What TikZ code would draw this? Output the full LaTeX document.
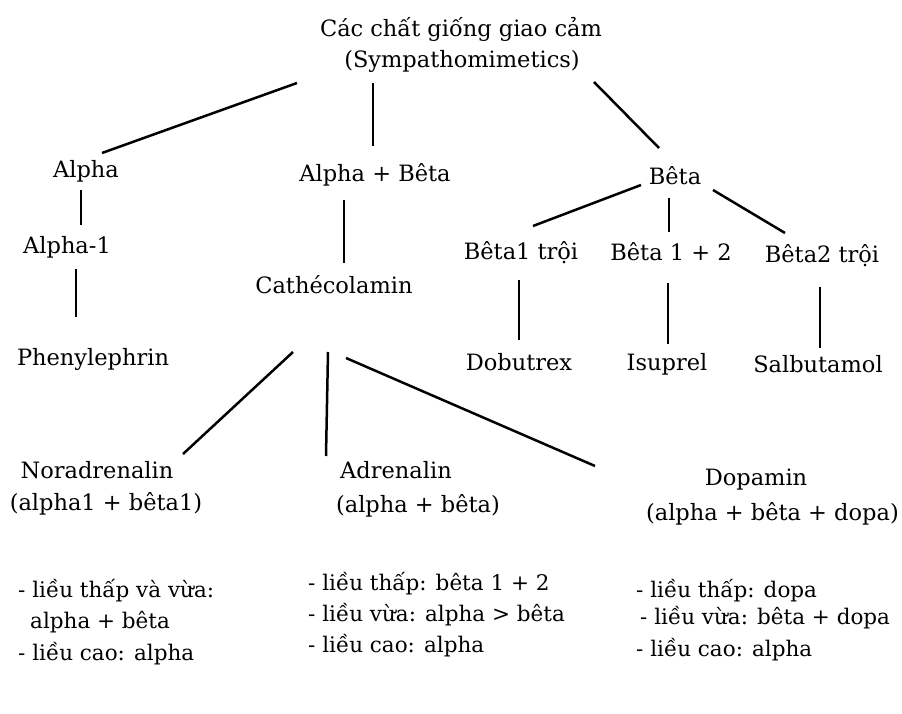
\documentclass[tikz,border=0pt]{standalone}
\usepackage{fontspec}
\setmainfont{DejaVu Serif}
\usetikzlibrary{calc}
\tikzstyle{label} = [anchor=base, inner sep=0pt, font=\fontsize{22.5}{27}\selectfont]
\tikzstyle{note} = [anchor=base west, inner sep=0pt, font=\fontsize{21.5}{26}\selectfont]
\tikzstyle{branch} = [line width=2.5pt]

\begin{document}
\begin{tikzpicture}[x=1pt, y=-1pt]
        \useasboundingbox (0,0) rectangle (902,714);
        % tree labels, placed on their baselines
        \node (title) [label] at (461,37) {Các chất giống giao cảm};
        \node (title-en) [label] at (462,68) {(Sympathomimetics)};
        \node (alpha) [label] at (86,178) {Alpha};
        \node (alpha-beta) [label] at (375,182) {Alpha + Bêta};
        \node (beta) [label] at (675,185) {Bêta};
        \node (alpha-1) [label] at (67,253) {Alpha-1};
        \node (cathecol) [label] at (334,293) {Cathécolamin};
        \node (beta-1) [label] at (521,259) {Bêta1 trội};
        \node (beta-12) [label] at (671,260) {Bêta 1 + 2};
        \node (beta-2) [label] at (822,262) {Bêta2 trội};
        \node (phenyl) [label] at (93,365) {Phenylephrin};
        \node (dobutrex) [label] at (519,370) {Dobutrex};
        \node (isuprel) [label] at (667,370) {Isuprel};
        \node (salbutamol) [label] at (818,372) {Salbutamol};
        \node (noradren) [label] at (97,478) {Noradrenalin};
        \node (noradren-rx) [label] at (106,510) {(alpha1 + bêta1)};
        \node (adren) [label] at (396,478) {Adrenalin};
        \node (adren-rx) [label] at (418,512) {(alpha + bêta)};
        \node (dopamin) [label] at (756,485) {Dopamin};
        \node (dopamin-rx) [label, anchor=base east] at (899,520) {(alpha + bêta + dopa)};
        % doses
        \node (noradren-low) [note] at (18,597) {- liều thấp và vừa:};
        \node (noradren-low2) [note] at (30,628) {alpha + bêta};
        \node (noradren-high) [note] at (18,660) {- liều cao: alpha};
        \node (adren-low) [note] at (308,590) {- liều thấp: bêta 1 + 2};
        \node (adren-mid) [note] at (308,621) {- liều vừa: alpha > bêta};
        \node (adren-high) [note] at (308,652) {- liều cao: alpha};
        \node (dopamin-low) [note] at (636,597) {- liều thấp: dopa};
        \node (dopamin-mid) [note] at (640,624) {- liều vừa: bêta + dopa};
        \node (dopamin-high) [note] at (636,656) {- liều cao: alpha};
        % branches
        \draw [branch] ($(title-en.base)+(-165,15)$) -- ($(alpha.base)+(16,-25)$);
        \draw [branch] ($(title-en.base)+(-89,15)$) -- ($(alpha-beta.base)+(-2,-36)$);
        \draw [branch] ($(title-en.base)+(132,14)$) -- ($(beta.base)+(-16,-37)$);
        \draw [branch] ($(alpha.base)+(-5,12)$) -- ($(alpha-1.base)+(14,-28)$);
        \draw [branch] ($(alpha-1.base)+(9,16)$) -- ($(phenyl.base)+(-17,-48)$);
        \draw [branch] ($(alpha-beta.base)+(-31,18)$) -- ($(cathecol.base)+(10,-30)$);
        \draw [branch] ($(beta.base)+(-34,0)$) -- ($(beta-1.base)+(12,-33)$);
        \draw [branch] ($(beta.base)+(-6,13)$) -- ($(beta-12.base)+(-2,-28)$);
        \draw [branch] ($(beta.base)+(38,5)$) -- ($(beta-2.base)+(-37,-29)$);
        \draw [branch] ($(beta-1.base)+(-2,21)$) -- ($(dobutrex.base)+(0,-30)$);
        \draw [branch] ($(beta-12.base)+(-3,23)$) -- ($(isuprel.base)+(1,-26)$);
        \draw [branch] ($(beta-2.base)+(-2,25)$) -- ($(salbutamol.base)+(2,-24)$);
        \draw [branch] ($(cathecol.base)+(-41,59)$) -- ($(noradren.base)+(86,-24)$);
        \draw [branch] ($(cathecol.base)+(-6,59)$) -- ($(adren.base)+(-70,-22)$);
        \draw [branch] ($(cathecol.base)+(12,65)$) -- ($(dopamin.base)+(-161,-19)$);
    \end{tikzpicture}
\end{document}
